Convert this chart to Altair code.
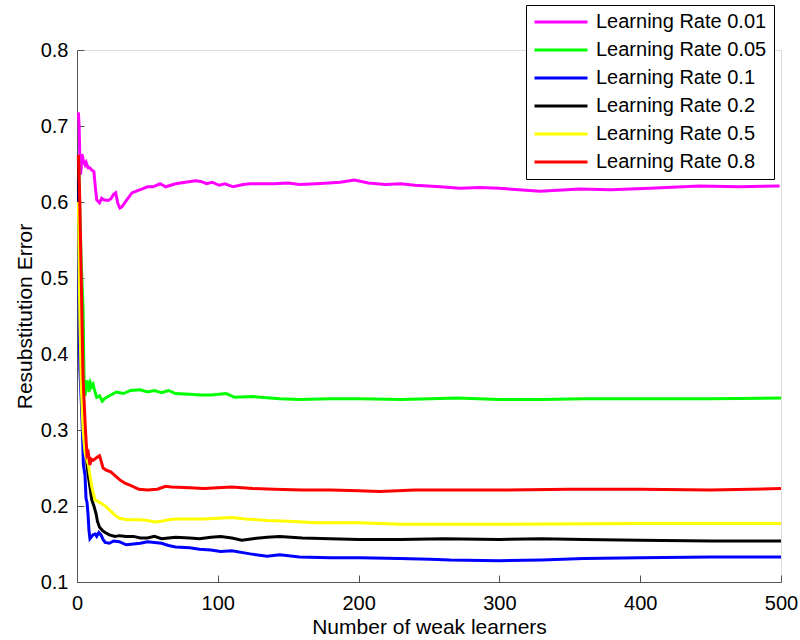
import altair as alt
import pandas as pd

FONT = "Liberation Sans"

series_names = ["Learning Rate 0.01", "Learning Rate 0.05", "Learning Rate 0.1",
                "Learning Rate 0.2", "Learning Rate 0.5", "Learning Rate 0.8"]
series_colors = ["#ff00ff", "#00ff00", "#0000ff", "#000000", "#ffff00", "#ff0000"]

x_001 = [1, 1.5, 2, 2.5, 3, 3.5, 4.5, 5.7, 6.5, 7.8, 9, 10.5, 12, 13, 14, 16, 17.5, 19, 22, 24,
         26, 27.5, 29, 30.5, 32, 35.5, 39, 43, 46, 50, 54, 59, 63, 70, 77, 84, 88, 92, 96, 101,
         105, 111, 118, 123, 140, 150, 158, 170, 187, 197, 207, 219, 230, 240, 258, 272, 286,
         300, 329, 357, 379, 407, 442, 470, 499]
y_001 = [0.718, 0.700, 0.660, 0.636, 0.645, 0.663, 0.655, 0.649, 0.652, 0.645, 0.645, 0.642,
         0.640, 0.620, 0.603, 0.599, 0.605, 0.603, 0.602, 0.604, 0.610, 0.612, 0.598, 0.592,
         0.594, 0.603, 0.612, 0.615, 0.617, 0.620, 0.620, 0.624, 0.620, 0.624, 0.626, 0.628,
         0.627, 0.624, 0.626, 0.622, 0.624, 0.620, 0.623, 0.624, 0.624, 0.625, 0.623, 0.624,
         0.626, 0.629, 0.625, 0.623, 0.624, 0.622, 0.620, 0.618, 0.619, 0.618, 0.614, 0.617,
         0.616, 0.618, 0.621, 0.620, 0.621]

x_005 = [1, 3, 4.3, 5, 5.7, 6.5, 7.5, 8.5, 9.5, 10.5, 11.5, 12.5, 14, 16, 18, 20, 23, 28, 33,
         38, 45, 50, 55, 60, 65, 70, 80, 87, 95, 106, 112, 125, 144, 158, 180, 201, 230, 251,
         270, 300, 330, 360, 400, 450, 500]
y_005 = [0.660, 0.520, 0.460, 0.370, 0.345, 0.360, 0.365, 0.350, 0.362, 0.357, 0.360, 0.352,
         0.343, 0.345, 0.338, 0.342, 0.345, 0.350, 0.348, 0.352, 0.353, 0.350, 0.352, 0.349,
         0.352, 0.348, 0.347, 0.346, 0.346, 0.348, 0.343, 0.344, 0.341, 0.340, 0.341, 0.341,
         0.340, 0.341, 0.342, 0.340, 0.340, 0.341, 0.341, 0.341, 0.342]

x_01 = [1, 1.5, 2, 3, 4, 4.5, 5.7, 6.4, 7.1, 7.8, 8.5, 9.2, 10.5, 11.4, 13, 14, 15.5, 17, 18.5,
        20, 23, 26, 30, 35, 40, 45, 50, 55, 60, 65, 70, 80, 87, 95, 102, 110, 123, 135, 144,
        158, 180, 201, 229, 251, 265, 300, 330, 360, 400, 450, 500]
y_01 = [0.630, 0.450, 0.380, 0.340, 0.290, 0.255, 0.240, 0.210, 0.205, 0.190, 0.168, 0.157,
        0.160, 0.162, 0.163, 0.160, 0.165, 0.162, 0.156, 0.152, 0.151, 0.154, 0.153, 0.149,
        0.150, 0.151, 0.153, 0.152, 0.151, 0.148, 0.146, 0.145, 0.143, 0.142, 0.140, 0.141,
        0.137, 0.134, 0.136, 0.133, 0.132, 0.132, 0.131, 0.130, 0.129, 0.128, 0.129, 0.131,
        0.132, 0.133, 0.133]

x_02 = [1, 2, 3, 4.3, 5.7, 7.1, 8, 9.2, 10.5, 12, 13.5, 14.5, 16, 18, 20, 23, 27, 30, 35, 40,
        45, 50, 55, 60, 65, 70, 80, 87, 95, 102, 110, 117, 125, 135, 144, 160, 180, 200, 230,
        260, 300, 330, 360, 400, 450, 500]
y_02 = [0.660, 0.500, 0.380, 0.330, 0.290, 0.254, 0.240, 0.225, 0.208, 0.200, 0.190, 0.180,
        0.172, 0.168, 0.165, 0.162, 0.160, 0.161, 0.160, 0.160, 0.158, 0.158, 0.160, 0.157,
        0.158, 0.159, 0.158, 0.157, 0.159, 0.160, 0.158, 0.155, 0.157, 0.159, 0.160, 0.158,
        0.157, 0.156, 0.156, 0.157, 0.156, 0.157, 0.156, 0.155, 0.154, 0.154]

x_05 = [1, 2, 3, 4.3, 5.7, 7.1, 8, 9.2, 10.5, 12.8, 16, 20, 23, 27, 30, 35, 40, 45, 50, 55, 60,
        65, 70, 80, 90, 100, 110, 120, 135, 150, 170, 200, 230, 260, 300, 400, 500]
y_05 = [0.600, 0.450, 0.360, 0.300, 0.270, 0.260, 0.255, 0.240, 0.225, 0.208, 0.205, 0.200,
        0.195, 0.188, 0.184, 0.182, 0.182, 0.182, 0.181, 0.179, 0.180, 0.182, 0.183, 0.183,
        0.183, 0.184, 0.185, 0.183, 0.181, 0.180, 0.178, 0.178, 0.176, 0.176, 0.176, 0.177,
        0.177]

x_08 = [1, 2, 3, 4.3, 5, 6, 7.1, 8, 9.2, 10, 11.4, 12.8, 14.2, 16, 17, 18.5, 21, 24, 27, 30,
        34, 38, 44, 50, 57, 63, 67, 80, 90, 100, 110, 125, 140, 160, 180, 200, 215, 240, 260,
        300, 350, 400, 450, 500]
y_08 = [0.662, 0.600, 0.500, 0.370, 0.340, 0.300, 0.267, 0.270, 0.254, 0.262, 0.260, 0.262,
        0.264, 0.266, 0.260, 0.250, 0.247, 0.245, 0.240, 0.235, 0.230, 0.227, 0.222, 0.221,
        0.222, 0.226, 0.225, 0.224, 0.223, 0.224, 0.225, 0.223, 0.222, 0.221, 0.221, 0.220,
        0.219, 0.221, 0.221, 0.221, 0.222, 0.222, 0.221, 0.223]

all_x = [x_001, x_005, x_01, x_02, x_05, x_08]
all_y = [y_001, y_005, y_01, y_02, y_05, y_08]

rows = []
for i, (name, xs, ys) in enumerate(zip(series_names, all_x, all_y)):
    for x, y in zip(xs, ys):
        rows.append({"learners": x, "error": y, "series": name, "order": i})
df = pd.DataFrame(rows)

x_ticks = [0, 100, 200, 300, 400, 500]
y_ticks = [0.1, 0.2, 0.3, 0.4, 0.5, 0.6, 0.7, 0.8]

chart = alt.Chart(df).mark_line(strokeWidth=3).encode(
    x=alt.X("learners:Q",
            scale=alt.Scale(domain=[0, 500], nice=False, zero=False),
            axis=alt.Axis(title="Number of weak learners", values=x_ticks, format="d",
                          grid=False, domainColor="#555555", tickColor="#555555",
                          tickSize=alt.ExprRef("-7"), labelPadding=18, labelFlush=False,
                          labelFontSize=20, labelFont=FONT, labelColor="black",
                          titleFontSize=21, titleFont=FONT, titleFontWeight="normal",
                          titleColor="black", titleY=45, titleBaseline="middle")),
    y=alt.Y("error:Q",
            scale=alt.Scale(domain=[0.1, 0.8], nice=False, zero=False),
            axis=alt.Axis(title="Resubstitution Error", values=y_ticks, format=".1f",
                          grid=False, domainColor="#555555", tickColor="#555555",
                          tickSize=alt.ExprRef("-7"), labelPadding=16, labelFlush=False,
                          labelFontSize=20, labelFont=FONT, labelColor="black",
                          titleFontSize=21, titleFont=FONT, titleFontWeight="normal",
                          titleColor="black", titleX=-52, titleY=266, titleAngle=270,
                          titleAlign="center", titleBaseline="middle")),
    color=alt.Color("series:N",
                    scale=alt.Scale(domain=series_names, range=series_colors),
                    legend=alt.Legend(orient="none", legendX=449, legendY=-45, title=None,
                                      strokeColor="black", fillColor="white", padding=7,
                                      symbolType="stroke", symbolStrokeWidth=3,
                                      symbolSize=2809, clipHeight=20, rowPadding=8,
                                      labelFontSize=20, labelFont=FONT, labelColor="black",
                                      labelOffset=7, labelLimit=400)),
    order=alt.Order("order:Q"),
    detail="series:N",
).properties(
    width=704, height=532,
    autosize=alt.AutoSizeParams(type="none"),
    padding={"left": 77, "top": 50, "right": 19, "bottom": 58},
).configure_view(stroke=None).configure(background="white")

chart.save("out.html", embed_options={"renderer": "svg", "actions": False})
